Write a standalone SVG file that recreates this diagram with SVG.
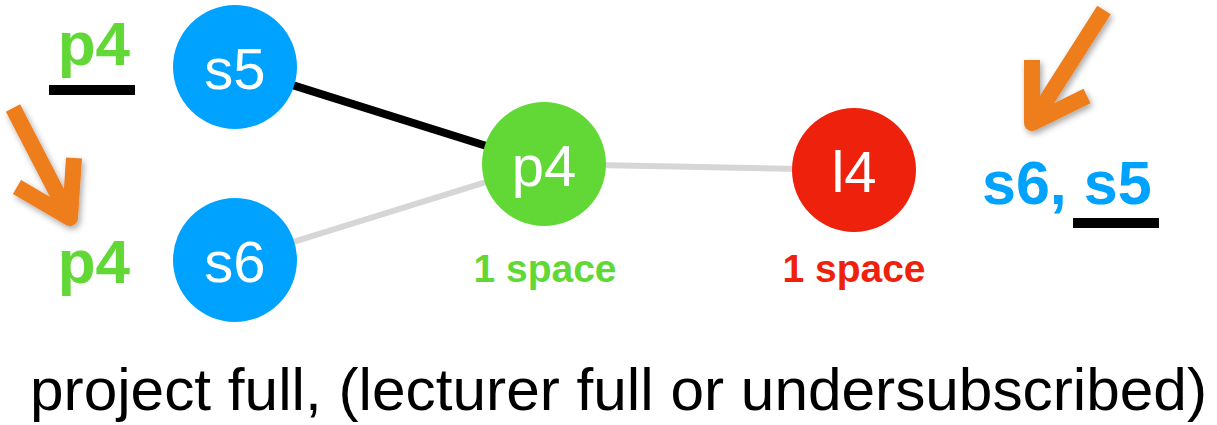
<svg xmlns="http://www.w3.org/2000/svg" width="1217" height="425" viewBox="0 0 1217 425">
<style>
.node-label{font-family:"Liberation Sans",Arial,sans-serif;font-size:58px;fill:#fff;text-anchor:middle}
.bold{font-family:"Liberation Sans",Arial,sans-serif;font-weight:bold}
.arrow{fill:none;stroke:#EE7D1E;stroke-width:16;stroke-linejoin:round;stroke-linecap:butt;filter:url(#sh)}
</style>
<defs>
<filter id="sh" x="-30%" y="-30%" width="160%" height="160%">
<feDropShadow dx="2" dy="3" stdDeviation="3" flood-color="#000" flood-opacity="0.35"/>
</filter>
</defs>
<rect width="1217" height="425" fill="#fff"/>
<g id="connectors">
<line x1="235" y1="67" x2="544" y2="164" stroke="#000" stroke-width="8"/>
<line x1="235" y1="260" x2="544" y2="164" stroke="#D6D6D6" stroke-width="6"/>
<line x1="544" y1="164" x2="854" y2="170" stroke="#D6D6D6" stroke-width="6"/>
</g>
<g id="s5">
<circle cx="235" cy="67" r="62" fill="#00A2FF"/>
<text class="node-label" x="235" y="89">s5</text>
</g>
<g id="s6">
<circle cx="235" cy="260" r="62" fill="#00A2FF"/>
<text class="node-label" x="235" y="282">s6</text>
</g>
<g id="p4">
<circle cx="544" cy="164" r="62" fill="#61D836"/>
<text class="node-label" x="544" y="186">p4</text>
<text class="bold" x="545" y="282" font-size="39" fill="#61D836" text-anchor="middle">1 space</text>
</g>
<g id="l4">
<circle cx="854" cy="170" r="62" fill="#EE220C"/>
<text class="node-label" x="854" y="192">l4</text>
<text class="bold" x="854" y="282" font-size="39" fill="#EE220C" text-anchor="middle">1 space</text>
</g>
<g id="left-labels">
<text class="bold" x="130" y="65" font-size="62" fill="#61D836" text-anchor="end">p4</text>
<rect x="49" y="85" width="86" height="10" fill="#000"/>
<text class="bold" x="130" y="283" font-size="62" fill="#61D836" text-anchor="end">p4</text>
<path class="arrow" d="M13,108 L70,218 M17,187 L70,218 L74,158"/>
</g>
<g id="right-labels">
<path class="arrow" d="M1104,10 L1032,123 M1032,60 L1032,123 L1087,96"/>
<text class="bold" x="982" y="204" font-size="61" fill="#00A2FF">s6, s5</text>
<rect x="1073" y="218" width="86" height="10" fill="#000"/>
</g>
<text x="30" y="410" font-family="Liberation Sans, Arial, sans-serif" font-size="60" fill="#000" textLength="1177" lengthAdjust="spacingAndGlyphs">project full, (lecturer full or undersubscribed)</text>
</svg>
